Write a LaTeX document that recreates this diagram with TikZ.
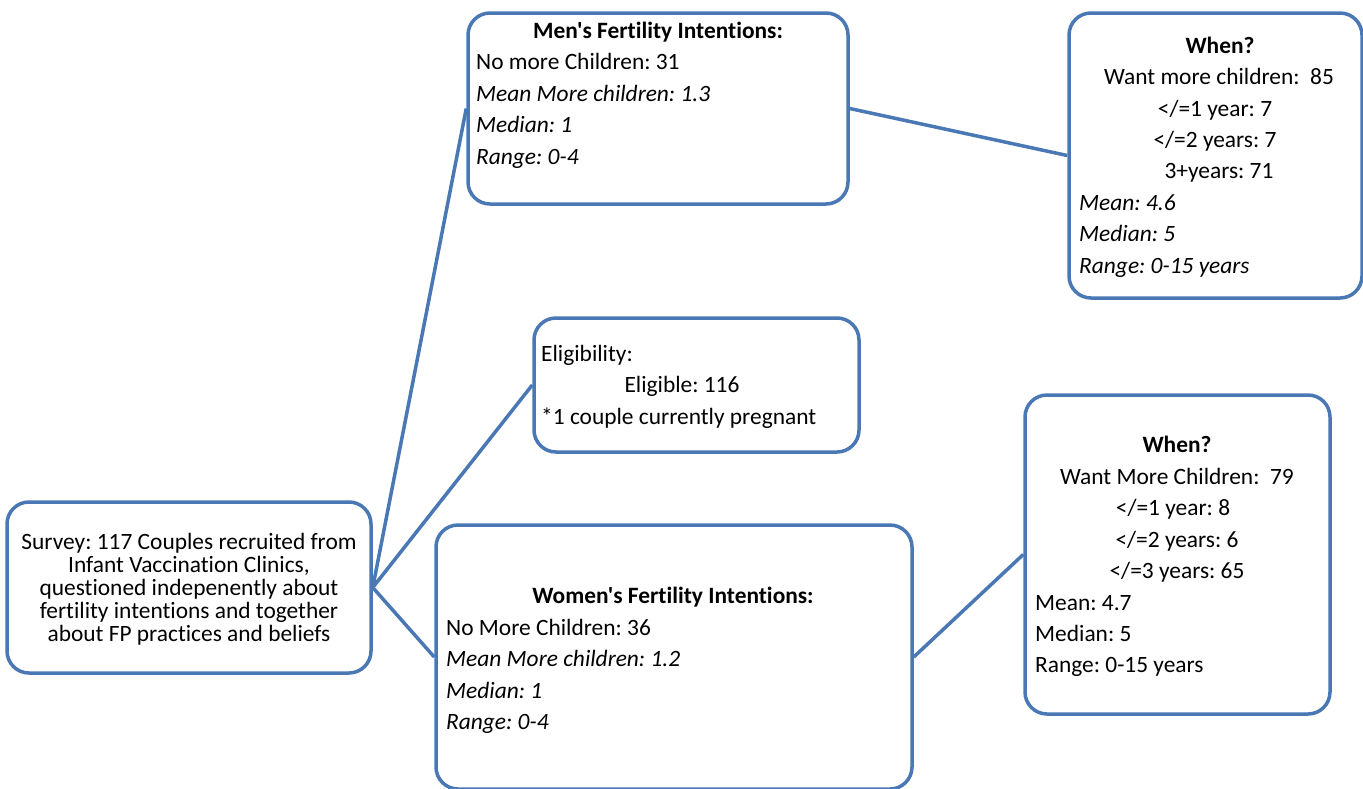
\documentclass[tikz,border=0pt]{standalone}
\usepackage{fontspec}
\setmainfont{Carlito}[Ligatures={TeXOff,NoCommon}]
\frenchspacing
\definecolor{boxblue}{HTML}{4A78B4}
\begin{document}
\begin{tikzpicture}[x=1pt,y=-1pt,
  box/.style={draw=boxblue, line width=3.5pt, rounded corners=22pt, fill=white, inner sep=0pt},
  link/.style={draw=boxblue, line width=3.5pt},
  txt/.style={inner sep=0pt, font=\fontsize{23.4}{28}\selectfont, text=black, yshift=-3pt},
  lt/.style={txt, anchor=mid west},
  ct/.style={txt, anchor=mid},
  it/.style={lt, font=\fontsize{23.4}{28}\selectfont\itshape},
  bt/.style={ct, font=\fontsize{23.4}{28}\selectfont\bfseries}]
\useasboundingbox (0,0) rectangle (1363,788);
\begin{scope}
\clip (0,0) rectangle (1363,788);
% boxes
\node[box, minimum width=364pt, minimum height=171pt] (survey) at (189,587.5) {};
\node[box, minimum width=380pt, minimum height=191pt] (men) at (658,108.5) {};
\node[box, minimum width=293pt, minimum height=285pt] (whentop) at (1215.5,155.5) {};
\node[box, minimum width=325pt, minimum height=134pt] (elig) at (696.5,385) {};
\node[box, minimum width=305pt, minimum height=319pt] (whenbot) at (1177.5,554.5) {};
\node[box, minimum width=476pt, minimum height=264pt] (women) at (674,657) {};
% connectors
\draw[link] (survey.east) -- (men.west);
\draw[link] (survey.east) -- (elig.west);
\draw[link] (survey.east) -- (women.west);
\draw[link] (men.east) -- (whentop.west);
\draw[link] (women.east) -- (whenbot.west);
\end{scope}
% survey text
\node[ct] (s1) at (189,544) {Survey: 117 Couples recruited from};
\node[ct] (s2) at (189,567) {Infant Vaccination Clinics,};
\node[ct] (s3) at (189,590) {questioned indepenently about};
\node[ct] (s4) at (189,613) {fertility intentions and together};
\node[ct] (s5) at (189,636) {about FP practices and beliefs};
% men text
\node[bt] (m0) at (658,33) {Men's Fertility Intentions:};
\node[lt] (m1) at (476,64) {No more Children: 31};
\node[it] (m2) at (476,96) {Mean More children: 1.3};
\node[it] (m3) at (476,127) {Median: 1};
\node[it] (m4) at (476,159) {Range: 0-4};
% when top text
\node[bt] (w0) at (1220,48) {When?};
\node[ct] (w1) at (1219,79) {Want more children:\ \ 85};
\node[ct] (w2) at (1215,111) {</=1 year: 7};
\node[ct] (w3) at (1215,142) {</=2 years: 7};
\node[ct] (w4) at (1219,173) {3+years: 71};
\node[it] (w5) at (1079,205) {Mean: 4.6};
\node[it] (w6) at (1079,236) {Median: 5};
\node[it] (w7) at (1079,268) {Range: 0-15 years};
% eligibility text
\node[lt] (e0) at (541,356) {Eligibility:};
\node[ct] (e1) at (682,387) {Eligible: 116};
\node[lt] (e2) at (541,419) {*1 couple currently pregnant};
% when bottom text
\node[bt] (v0) at (1177,447) {When?};
\node[ct] (v1) at (1177,479) {Want More Children:\ \ 79};
\node[ct] (v2) at (1173,510) {</=1 year: 8};
\node[ct] (v3) at (1177,542) {</=2 years: 6};
\node[ct] (v4) at (1177,573) {</=3 years: 65};
\node[lt] (v5) at (1035,605) {Mean: 4.7};
\node[lt] (v6) at (1035,636) {Median: 5};
\node[lt] (v7) at (1035,667) {Range: 0-15 years};
% women text
\node[bt] (f0) at (673,598) {Women's Fertility Intentions:};
\node[lt] (f1) at (446,630) {No More Children: 36};
\node[it] (f2) at (446,661) {Mean More children: 1.2};
\node[it] (f3) at (446,693) {Median: 1};
\node[it] (f4) at (446,724) {Range: 0-4};
\end{tikzpicture}
\end{document}
